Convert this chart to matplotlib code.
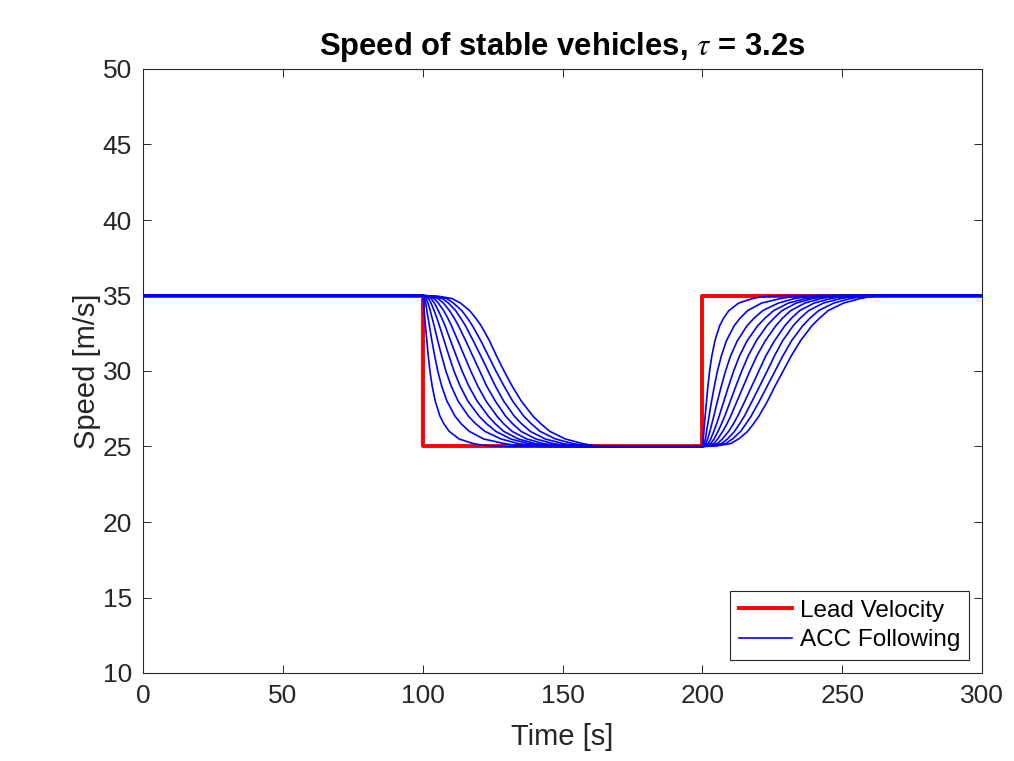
import matplotlib
matplotlib.use("Agg")
import matplotlib.pyplot as plt

# ---------------- data ----------------
t_start, t_end = 0, 300
lead_times = [0, 100, 100, 200, 200, 300]
lead_speed = [35, 35, 25, 25, 35, 35]

v_high, v_low = 35, 25
t_drop, t_rise = 100, 200

# fraction of the speed change completed (read levels)
levels = [0, .005, .02, .05, .1, .15, .2, .3, .4, .5, .6, .7, .8, .85, .9, .95, .98, .99, .995, 1.0]

# seconds after the lead's drop at which each follower reaches each level
drop_offsets = [
    [0, 0.08, 0.2, 0.35, 0.55, 0.78, 1.0, 1.5, 2.0, 2.6, 3.4, 4.5, 6.2, 7.6, 9.5, 13.0, 18.0, 21, 24, 30],
    [0, 0.3, 0.7, 1.1, 1.5, 1.95, 2.4, 3.3, 4.3, 5.4, 6.8, 8.7, 11.6, 13.8, 16.7, 21.8, 29, 32.5, 36, 42],
    [0, 0.6, 1.3, 1.9, 2.7, 3.4, 4.1, 5.4, 6.8, 8.3, 10.2, 12.7, 16.4, 19.0, 22.3, 28.0, 34, 37.5, 41, 47],
    [0, 1.0, 2.1, 3.0, 4.1, 5.1, 6.0, 7.7, 9.4, 11.2, 13.4, 16.2, 20.2, 22.9, 26.2, 31.5, 37.5, 41, 45, 51],
    [0, 1.5, 3.0, 4.2, 5.6, 6.85, 8.0, 10.0, 12.0, 14.1, 16.5, 19.5, 23.5, 26.0, 29.0, 34.2, 40, 44, 48, 54],
    [0, 2.1, 4.1, 5.6, 7.5, 9.0, 10.3, 12.6, 14.9, 17.2, 19.7, 22.7, 26.6, 29.0, 32.0, 37.2, 43, 47, 51, 57],
    [0, 2.8, 5.5, 7.4, 9.6, 11.3, 12.8, 15.4, 17.9, 20.4, 22.9, 26.0, 29.7, 32.2, 35.2, 40.5, 46.5, 50, 54, 60],
    [0, 3.6, 7.0, 9.2, 11.8, 13.6, 15.3, 18.1, 20.8, 23.4, 26.0, 29.0, 32.8, 35.4, 38.5, 43.8, 50, 53.5, 57, 63],
    [0, 4.6, 8.6, 11.0, 14.0, 16.0, 17.8, 20.8, 23.5, 26.2, 29.1, 32.2, 36.2, 38.9, 42.0, 47.5, 53.5, 57, 60, 66],
    [0, 5.6, 10.5, 13.5, 16.8, 19.0, 20.9, 23.9, 26.4, 29.1, 32.0, 35.3, 39.5, 42.3, 45.5, 51.0, 57.0, 60, 63, 69],
]

# seconds after the lead's rise at which each follower reaches each level
rise_offsets = [
    [0, 0.08, 0.2, 0.35, 0.55, 0.78, 1.0, 1.5, 2.0, 2.6, 3.4, 4.5, 6.2, 7.6, 9.5, 13.0, 18.0, 21, 24, 30],
    [0, 0.3, 0.7, 1.1, 1.5, 1.95, 2.4, 3.3, 4.3, 5.4, 6.8, 8.6, 11.4, 13.5, 16.2, 21.2, 28, 31.5, 35, 41],
    [0, 0.6, 1.3, 1.9, 2.7, 3.4, 4.1, 5.4, 6.8, 8.3, 10.1, 12.5, 16.0, 18.5, 21.6, 27.2, 33, 36.5, 40, 46],
    [0, 1.0, 2.1, 3.0, 4.1, 5.1, 6.0, 7.7, 9.4, 11.2, 13.3, 16.0, 19.8, 22.4, 25.5, 30.8, 37, 40.5, 44, 50],
    [0, 1.5, 3.0, 4.2, 5.6, 6.85, 8.0, 10.0, 12.0, 14.1, 16.4, 19.3, 23.1, 25.6, 28.5, 33.6, 39.5, 43, 47, 53],
    [0, 2.1, 4.1, 5.5, 7.3, 8.8, 10.1, 12.4, 14.7, 17.0, 19.5, 22.5, 26.3, 28.7, 31.6, 36.7, 42.5, 46, 50, 56],
    [0, 2.8, 5.4, 7.2, 9.4, 11.1, 12.6, 15.2, 17.7, 20.2, 22.7, 25.8, 29.5, 31.9, 34.8, 40.0, 46, 49.5, 53, 59],
    [0, 3.6, 6.9, 9.0, 11.5, 13.3, 15.0, 17.8, 20.5, 23.2, 25.8, 28.7, 32.5, 35.0, 38.0, 43.3, 49.5, 53, 56, 62],
    [0, 4.5, 8.4, 10.8, 13.7, 15.6, 17.4, 20.4, 23.2, 26.0, 28.8, 31.9, 35.9, 38.5, 41.6, 47.0, 53, 56.5, 59.5, 65],
    [0, 5.5, 10.2, 13.0, 16.2, 18.3, 20.2, 23.3, 26.0, 28.9, 31.8, 35.1, 39.2, 41.9, 45.0, 50.5, 56.5, 59.5, 62.5, 68],
]

x_ticks = [0, 50, 100, 150, 200, 250, 300]
y_ticks = [10, 15, 20, 25, 30, 35, 40, 45, 50]

# ---------------- plot ----------------
plt.rcParams['font.family'] = ['Liberation Sans', 'DejaVu Sans']
plt.rcParams['mathtext.fontset'] = 'stix'

W, H = 1014, 761
fig = plt.figure(figsize=(W / 100, H / 100), dpi=100)
ax = fig.add_axes([143 / W, (H - 673) / H, (982 - 143) / W, (673 - 69) / H])

dark = '#262626'

ax.plot(lead_times, lead_speed, color='red', lw=2.8, label='Lead Velocity', zorder=2)

for k in range(len(drop_offsets)):
    tt = [t_start]
    vv = [v_high]
    for f, d in zip(levels, drop_offsets[k]):
        tt.append(t_drop + d)
        vv.append(v_high - f * (v_high - v_low))
    for f, d in zip(levels, rise_offsets[k]):
        tt.append(t_rise + d)
        vv.append(v_low + f * (v_high - v_low))
    tt.append(t_end)
    vv.append(v_high)
    ax.plot(tt, vv, color='blue', lw=1.2, zorder=3,
            label='ACC Following' if k == 0 else None)

ax.set_xlim(0, 300)
ax.set_ylim(10, 50)
ax.set_xticks(x_ticks)
ax.set_yticks(y_ticks)
ax.tick_params(direction='in', length=6, width=0.7, colors=dark, labelsize=19,
               top=True, right=True, pad=8)
for s in ax.spines.values():
    s.set_color(dark)
    s.set_linewidth(0.8)

ax.set_xlabel('Time [s]', fontsize=21, color=dark, labelpad=11)
ax.set_ylabel('Speed [m/s]', fontsize=21, color=dark, labelpad=1)
ax.set_title(r'Speed of stable vehicles, $\tau$ = 3.2s', fontsize=22.3,
             fontweight='bold', pad=10)

leg = ax.legend(loc='lower right', fontsize=17.5, frameon=True, fancybox=False,
                edgecolor=dark, framealpha=1, borderaxespad=0.55,
                handlelength=2.2, handletextpad=0.3, labelspacing=0.3,
                borderpad=0.35)
leg.get_frame().set_linewidth(0.8)

fig.savefig('out.png', dpi=100)
